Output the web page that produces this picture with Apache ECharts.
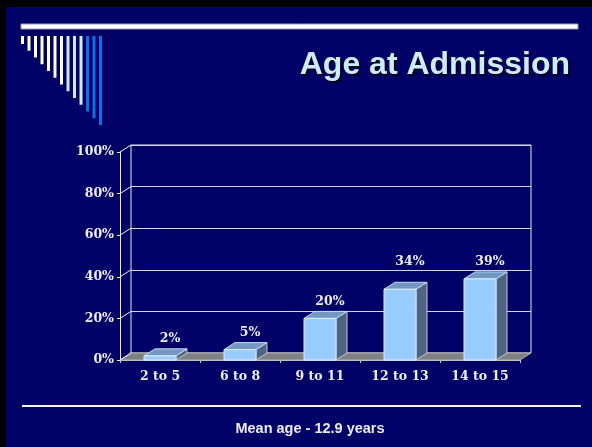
<!DOCTYPE html>
<html>
<head>
<meta charset="utf-8">
<script src="https://cdn.jsdelivr.net/npm/echarts@6/dist/echarts.min.js"></script>
<style>
  html, body { margin: 0; padding: 0; background: #000; }
  #chart { width: 592px; height: 447px; }
</style>
</head>
<body>
<div id="chart"></div>
<script>
// chart data
const categories = ['2 to 5', '6 to 8', '9 to 11', '12 to 13', '14 to 15'];
const values = [2, 5, 20, 34, 39];
const yTicks = [0, 20, 40, 60, 80, 100];
const title = 'Age at Admission';
const footnote = 'Mean age - 12.9 years';

// 3d depth of the bars / wall
const DX = 11;
const DY = 7;

const serif = 'DejaVu Serif';
const sans = 'Liberation Sans';
const labelColor = '#EEEEF8';

// slide decoration: little bars in the top left corner
function cornerBars() {
  let list = [];
  for (let i = 0; i < 13; i++) {
    let color = i < 7 ? '#FFFFCC' : (i < 10 ? '#CCECFF' : '#0A72E6');
    list.push({
      type: 'rect',
      shape: { x: 21 + i * 6.5, y: 36, width: 3, height: 8 + i * 6.75 },
      style: { fill: color },
      silent: true
    });
  }
  return list;
}

let option = {
  backgroundColor: '#000000',
  animation: false,
  graphic: [
    { type: 'rect', shape: { x: 6, y: 7, width: 600, height: 450 }, style: { fill: '#000066' }, z: -10 },
    { type: 'rect', shape: { x: 21, y: 24, width: 557, height: 5 }, style: { fill: '#FFFFFF', stroke: '#9C9CC0', lineWidth: 1 } },
    ...cornerBars(),
    {
      type: 'text', x: 572, y: 67,
      style: { text: title, font: 'bold 32px ' + sans, fill: '#00001A', align: 'right', verticalAlign: 'middle' }
    },
    {
      type: 'text', x: 570, y: 65,
      style: { text: title, font: 'bold 32px ' + sans, fill: '#CCECFF', align: 'right', verticalAlign: 'middle' }
    },
    { type: 'rect', shape: { x: 22, y: 405, width: 559, height: 2 }, style: { fill: '#F4F4FF' } },
    {
      type: 'text', x: 310, y: 429,
      style: { text: footnote, font: 'bold 14.5px ' + sans, fill: '#ECECF8', align: 'center', verticalAlign: 'middle' }
    }
  ],
  grid: [
    // front plane (axes, bars)
    { left: 120, top: 152, width: 400, height: 208 },
    // back wall
    { left: 131, top: 145, width: 400, height: 208, show: true, borderColor: '#E8E8F4', borderWidth: 1 }
  ],
  xAxis: [
    {
      type: 'category', gridIndex: 0, data: categories,
      axisLine: { show: true, lineStyle: { color: '#C8C8C8' } },
      axisTick: { show: true, length: 3, lineStyle: { color: '#C8C8D8' } },
      axisLabel: { color: labelColor, fontFamily: serif, fontWeight: 'bold', fontSize: 12.5, margin: 10 }
    },
    { type: 'category', gridIndex: 1, data: categories, show: false }
  ],
  yAxis: [
    {
      type: 'value', gridIndex: 0, min: 0, max: 100, interval: 20,
      axisLine: { show: true, lineStyle: { color: '#F0F0FA' } },
      axisTick: { show: true, length: 3, lineStyle: { color: '#F0F0FA' } },
      splitLine: { show: false },
      axisLabel: { formatter: '{value}%', color: labelColor, fontFamily: serif, fontWeight: 'bold', fontSize: 12.5, margin: 6 }
    },
    {
      type: 'value', gridIndex: 1, min: 0, max: 100, interval: 20,
      axisLine: { show: false }, axisTick: { show: false }, axisLabel: { show: false },
      splitLine: { show: true, lineStyle: { color: '#D4D4EC', width: 1 } }
    }
  ],
  series: [
    {
      // floor
      type: 'custom', xAxisIndex: 0, yAxisIndex: 0, z: 3,
      data: [[0, 0]],
      renderItem: function (params, api) {
        let cs = params.coordSys;
        let y0 = api.coord([0, 0])[1];
        return {
          type: 'polygon',
          shape: { points: [[cs.x, y0], [cs.x + cs.width, y0], [cs.x + cs.width + DX, y0 - DY], [cs.x + DX, y0 - DY]] },
          style: { fill: '#808080', stroke: '#B4B4B4', lineWidth: 1 }
        };
      }
    },
    {
      // diagonal tick lines from the front axis to the back wall
      type: 'custom', xAxisIndex: 0, yAxisIndex: 0, z: 4,
      data: yTicks.map(v => [0, v]),
      renderItem: function (params, api) {
        let x = params.coordSys.x;
        let y = api.coord([0, api.value(1)])[1];
        return {
          type: 'line',
          shape: { x1: x, y1: y, x2: x + DX, y2: y - DY },
          style: { stroke: '#F0F0FA', lineWidth: 1 }
        };
      }
    },
    {
      // 3d bars
      type: 'custom', xAxisIndex: 0, yAxisIndex: 0, z: 5,
      data: values.map((v, i) => [i, v]),
      renderItem: function (params, api) {
        let top = api.coord([api.value(0), api.value(1)]);
        let base = api.coord([api.value(0), 0]);
        let w = api.size([1, 0])[0] * 0.4;
        let x0 = top[0] - w / 2;
        let x1 = x0 + w;
        let yt = top[1];
        let yb = base[1];
        // label sits above the bar, but is lifted off a gridline it would sit on
        let ly = yt - DY - 10;
        for (let t of yTicks) {
          let gy = api.coord([0, t])[1] - DY;
          if (Math.abs(ly - gy) < 8) ly = gy - 8;
        }
        return {
          type: 'group',
          children: [
            {
              type: 'polygon',
              shape: { points: [[x1, yt], [x1 + DX, yt - DY], [x1 + DX, yb - DY], [x1, yb]] },
              style: { fill: '#4E6482', stroke: '#B8C8DC', lineWidth: 1 }
            },
            {
              type: 'polygon',
              shape: { points: [[x0, yt], [x1, yt], [x1 + DX, yt - DY], [x0 + DX, yt - DY]] },
              style: { fill: '#7298C2', stroke: '#C8DCF0', lineWidth: 1 }
            },
            {
              type: 'rect',
              shape: { x: x0, y: yt, width: w, height: yb - yt },
              style: { fill: '#99CCFF', stroke: '#DDEEFF', lineWidth: 1 }
            },
            {
              type: 'text',
              x: top[0] + DX - 1, y: ly,
              style: {
                text: api.value(1) + '%', font: 'bold 12.5px ' + serif,
                fill: labelColor, align: 'center', verticalAlign: 'middle'
              }
            }
          ]
        };
      }
    }
  ]
};

let myChart = echarts.init(document.getElementById('chart'));
myChart.setOption(option);
</script>
</body>
</html>
